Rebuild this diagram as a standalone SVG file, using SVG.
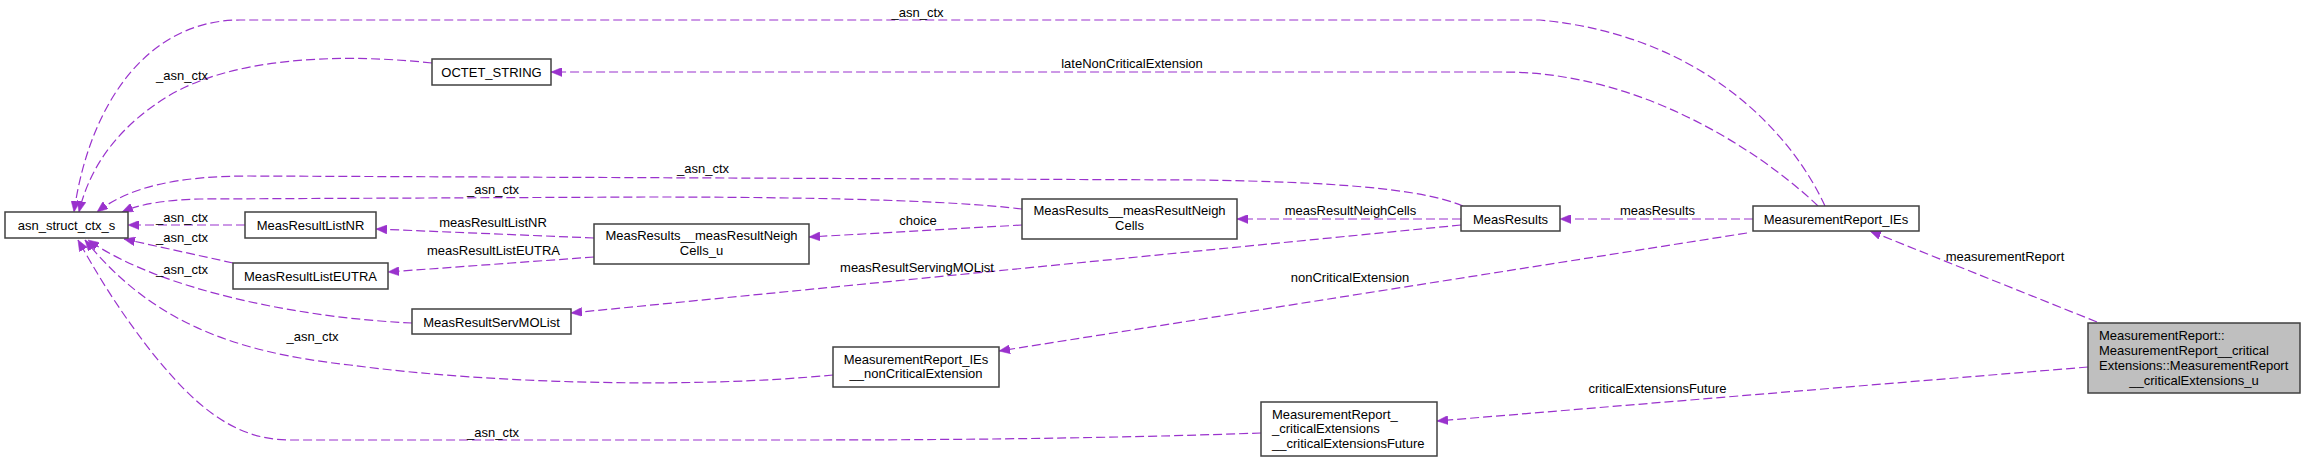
<svg xmlns="http://www.w3.org/2000/svg" width="2305" height="463" viewBox="0 0 2305 463">
<style>
.n rect{fill:#ffffff;stroke:#404040;stroke-width:1.5}
.n.main rect{fill:#bfbfbf}
text{font-family:"Liberation Sans",Arial,sans-serif;font-size:13px;fill:#000000}
.c{text-anchor:middle}
.e path{fill:none;stroke:#9a32cd;stroke-width:1.2;stroke-dasharray:9,4;marker-end:url(#ah)}
</style>
<defs>
<marker id="ah" viewBox="0 0 11 9" refX="11" refY="4.5" markerWidth="11" markerHeight="9" markerUnits="userSpaceOnUse" orient="auto">
<path d="M0,0 L11,4.5 L0,9 Z" fill="#9a32cd" stroke="#9a32cd" stroke-width="0.5"/>
</marker>
</defs>
<rect width="2305" height="463" fill="#ffffff"/>
<g id="connectors" class="e">
<path d="M1825,206 C1790,130 1700,35 1540,20 L240,20 C150,20 90,100 74,212"/>
<path d="M432,63 C330,52 230,60 170,95 C120,125 90,165 79,212"/>
<path d="M1818,206 C1770,160 1680,100 1580,80 C1550,74 1530,72 1500,72 L551,72"/>
<path d="M1463,206 C1420,188 1330,182 1200,180 L250,176 C180,176 130,186 97,212"/>
<path d="M1022,209 C950,200 800,197 650,197 L200,199 C165,200 140,204 122,212"/>
<path d="M245,225 L128,225"/>
<path d="M233,263 L124,239"/>
<path d="M412,323 C300,318 160,290 88,240"/>
<path d="M833,375 C700,388 500,385 350,365 C230,352 150,320 85,240"/>
<path d="M1261,433 C1150,437 1000,440 800,440 L290,440 C230,440 190,400 150,350 C115,305 95,270 78,240"/>
<path d="M594,238 L376,229"/>
<path d="M594,257 L388,272"/>
<path d="M1022,225 L809,237"/>
<path d="M1461,219 L1237,219"/>
<path d="M1461,225 L571,313"/>
<path d="M1753,219 L1560,219"/>
<path d="M1747,233 L999,351"/>
<path d="M2097,322 L1870,231"/>
<path d="M2088,367 L1437,421"/>
</g>
<g id="edge-labels">
<text class="c" x="917.5" y="16.5">_asn_ctx</text>
<text class="c" x="182" y="79.5">_asn_ctx</text>
<text class="c" x="1132" y="67.5">lateNonCriticalExtension</text>
<text class="c" x="703" y="172.5">_asn_ctx</text>
<text class="c" x="493" y="193.5">_asn_ctx</text>
<text class="c" x="182" y="221.5">_asn_ctx</text>
<text class="c" x="182" y="241.5">_asn_ctx</text>
<text class="c" x="182" y="273.5">_asn_ctx</text>
<text class="c" x="312.5" y="340.5">_asn_ctx</text>
<text class="c" x="493" y="436.5">_asn_ctx</text>
<text class="c" x="493" y="226.5">measResultListNR</text>
<text class="c" x="493.5" y="254.5">measResultListEUTRA</text>
<text class="c" x="918" y="224.5">choice</text>
<text class="c" x="1350.5" y="214.5">measResultNeighCells</text>
<text class="c" x="917" y="271.5">measResultServingMOList</text>
<text class="c" x="1657.5" y="214.5">measResults</text>
<text class="c" x="1350" y="281.5">nonCriticalExtension</text>
<text class="c" x="2005" y="260.5">measurementReport</text>
<text class="c" x="1657.5" y="392.5">criticalExtensionsFuture</text>
</g>
<g id="asn_struct_ctx_s" class="n"><rect x="5" y="212" width="123" height="26"/><text class="c" x="66.5" y="230">asn_struct_ctx_s</text></g>
<g id="OCTET_STRING" class="n"><rect x="432" y="59" width="119" height="26"/><text class="c" x="491.5" y="76.5">OCTET_STRING</text></g>
<g id="MeasResultListNR" class="n"><rect x="245" y="212" width="131" height="26"/><text class="c" x="310.5" y="230">MeasResultListNR</text></g>
<g id="MeasResultListEUTRA" class="n"><rect x="233" y="263" width="155" height="26"/><text class="c" x="310.5" y="281">MeasResultListEUTRA</text></g>
<g id="MeasResultServMOList" class="n"><rect x="412" y="309" width="159" height="25"/><text class="c" x="491.5" y="326.5">MeasResultServMOList</text></g>
<g id="MeasResults__measResultNeighCells_u" class="n"><rect x="594" y="224" width="215" height="40"/><text class="c" x="701.5" y="239.5">MeasResults__measResultNeigh</text><text class="c" x="701.5" y="254.5">Cells_u</text></g>
<g id="MeasResults__measResultNeighCells" class="n"><rect x="1022" y="199" width="215" height="40"/><text class="c" x="1129.5" y="214.5">MeasResults__measResultNeigh</text><text class="c" x="1129.5" y="229.5">Cells</text></g>
<g id="MeasurementReport_IEs__nonCriticalExtension" class="n"><rect x="833" y="347" width="166" height="40"/><text class="c" x="916" y="363.5">MeasurementReport_IEs</text><text class="c" x="916" y="378">__nonCriticalExtension</text></g>
<g id="MeasResults" class="n"><rect x="1461" y="206" width="99" height="25"/><text class="c" x="1510.5" y="223.5">MeasResults</text></g>
<g id="MeasurementReport_IEs" class="n"><rect x="1753" y="206" width="166" height="25"/><text class="c" x="1836" y="223.5">MeasurementReport_IEs</text></g>
<g id="MeasurementReport__criticalExtensions__criticalExtensionsFuture" class="n"><rect x="1261" y="402" width="176" height="54"/><text x="1272" y="418.5">MeasurementReport_</text><text x="1272" y="432.5">_criticalExtensions</text><text x="1272" y="447.5">__criticalExtensionsFuture</text></g>
<g id="MeasurementReport__criticalExtensions_u" class="n main"><rect x="2088" y="323" width="212" height="70"/><text x="2099" y="339.5">MeasurementReport::</text><text x="2099" y="354.5">MeasurementReport__critical</text><text x="2099" y="369.5">Extensions::MeasurementReport</text><text class="c" x="2194" y="384.5">__criticalExtensions_u</text></g>
</svg>
